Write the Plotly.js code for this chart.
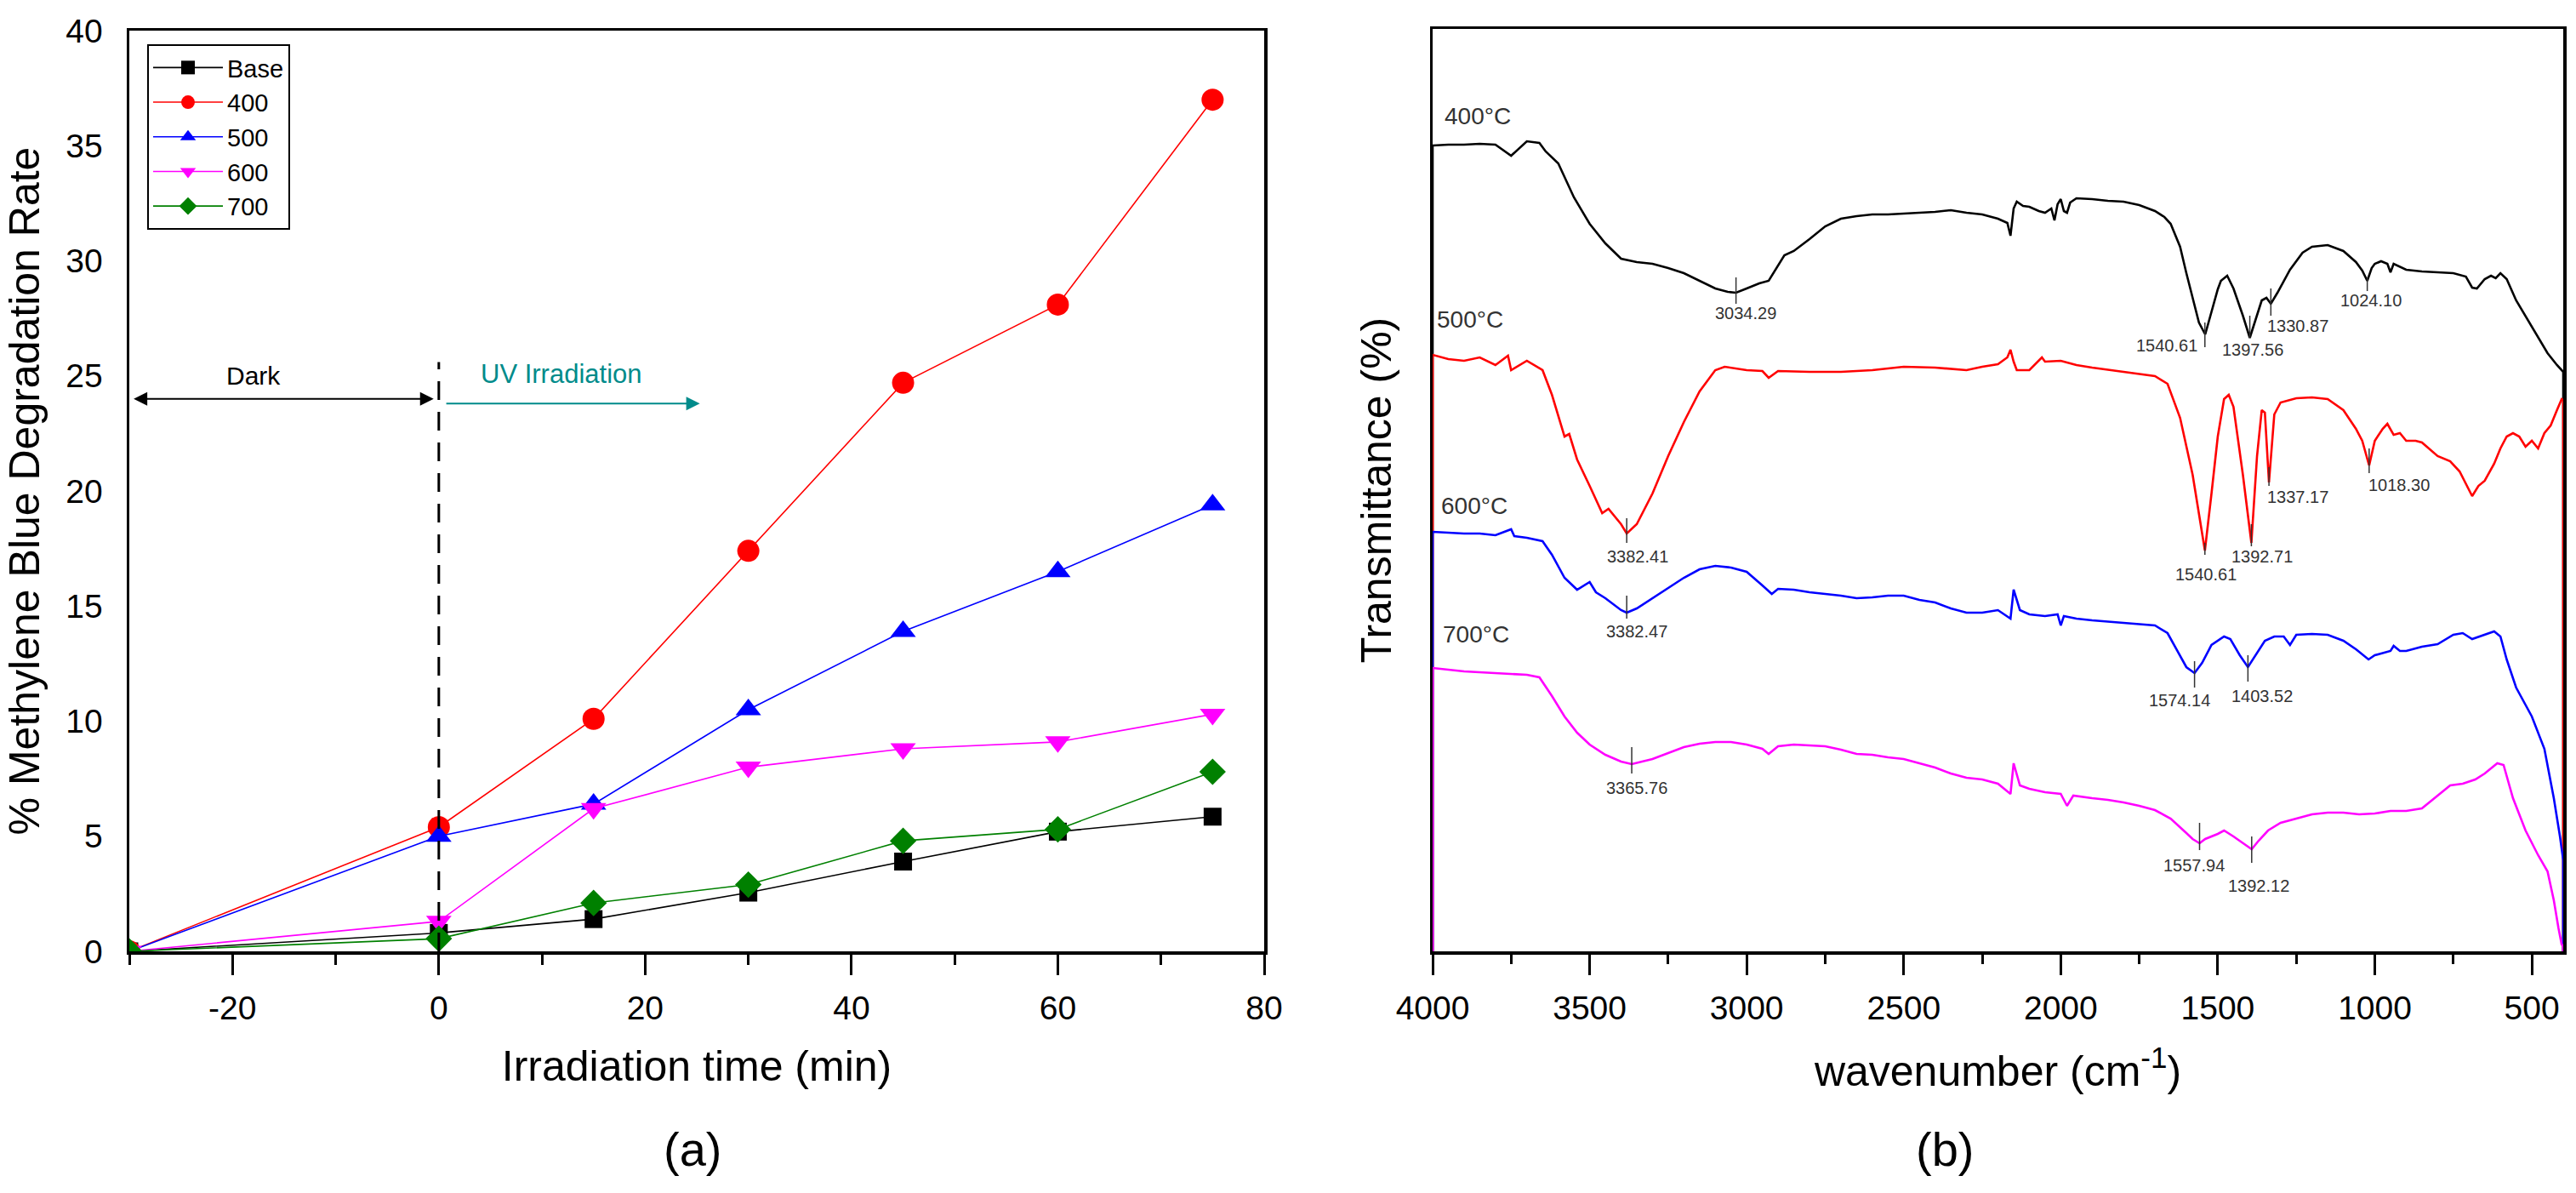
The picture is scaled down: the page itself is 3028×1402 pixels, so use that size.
<!DOCTYPE html>
<html>
<head>
<meta charset="utf-8">
<script src="https://cdn.plot.ly/plotly-3.0.1.min.js"></script>
<style>
  html, body { margin: 0; padding: 0; background: #fff; }
  #graph { width: 3028px; height: 1402px; }
</style>
</head>
<body>
<div id="graph"></div>
<script>
// ---- panel (a): degradation rate vs irradiation time ----
var time = [-30, 0, 15, 30, 45, 60, 75];
var rateBase = [0, 0.8, 1.4, 2.55, 3.9, 5.2, 5.85];
var rate400 = [0, 5.4, 10.1, 17.4, 24.7, 28.1, 37.0];
var rate500 = [0, 5.0, 6.4, 10.5, 13.9, 16.5, 19.4];
var rate600 = [0, 1.3, 6.2, 8.0, 8.8, 9.1, 10.3];
var rate700 = [0, 0.55, 2.1, 2.9, 4.8, 5.3, 7.8];
var seriesNames = ['Base', '400', '500', '600', '700'];
var timeTicks = [-20, 0, 20, 40, 60, 80];
var timeTickText = ['-20', '0', '20', '40', '60', '80'];

// ---- panel (b): FTIR spectra (relative transmittance, offset stacked) ----
var wn400 = [4000, 4000, 3950, 3900, 3850, 3800, 3750, 3700, 3660, 3640, 3600, 3550, 3500, 3450, 3400, 3350, 3300, 3250, 3200, 3150, 3100, 3060, 3034, 3000, 2960, 2930, 2910, 2880, 2850, 2800, 2750, 2700, 2650, 2600, 2550, 2500, 2450, 2400, 2350, 2300, 2250, 2200, 2170, 2160, 2150, 2140, 2120, 2100, 2070, 2050, 2030, 2020, 2010, 2000, 1990, 1980, 1970, 1950, 1900, 1850, 1800, 1750, 1700, 1670, 1650, 1620, 1600, 1580, 1560, 1540, 1520, 1500, 1490, 1470, 1450, 1420, 1398, 1380, 1360, 1345, 1331, 1310, 1270, 1230, 1200, 1150, 1100, 1060, 1040, 1024, 1010, 1000, 980, 960, 950, 940, 900, 850, 800, 750, 710, 690, 675, 650, 630, 615, 600, 580, 550, 500, 450, 420, 400, 400];
var tr400 = [0, 947, 948, 948, 949, 948, 935, 952, 950, 940, 926, 886, 855, 832, 814, 810, 808, 803, 797, 788, 779, 775, 774, 779, 785, 788, 800, 818, 823, 837, 852, 861, 864, 866, 866, 867, 868, 869, 871, 868, 866, 861, 856, 841, 873, 881, 876, 875, 870, 868, 873, 859, 878, 884, 870, 868, 880, 885, 884, 882, 881, 877, 870, 863, 855, 828, 797, 768, 739, 725, 752, 778, 788, 794, 779, 747, 721, 743, 765, 768, 761, 774, 801, 821, 828, 830, 823, 810, 800, 788, 803, 808, 811, 808, 798, 808, 801, 799, 798, 797, 793, 780, 779, 790, 794, 791, 797, 790, 765, 734, 703, 689, 681, 0];

var wn500 = [4000, 4000, 3950, 3900, 3850, 3800, 3760, 3750, 3700, 3650, 3620, 3580, 3565, 3540, 3500, 3460, 3440, 3400, 3382, 3350, 3300, 3250, 3200, 3150, 3100, 3070, 3000, 2950, 2930, 2900, 2800, 2700, 2600, 2500, 2400, 2300, 2250, 2200, 2170, 2160, 2150, 2140, 2100, 2060, 2050, 2000, 1950, 1900, 1800, 1700, 1660, 1620, 1580, 1560, 1541, 1520, 1500, 1480, 1465, 1450, 1420, 1393, 1375, 1360, 1350, 1337, 1320, 1300, 1250, 1200, 1150, 1100, 1060, 1040, 1018, 1000, 975, 960, 940, 920, 900, 870, 850, 800, 760, 730, 700, 690, 670, 650, 620, 600, 580, 560, 540, 520, 500, 480, 460, 440, 420, 405, 400, 400];
var tr500 = [0, 701, 696, 694, 698, 689, 700, 683, 694, 683, 654, 605, 608, 578, 547, 515, 520, 502, 491, 502, 538, 582, 622, 658, 683, 687, 683, 682, 674, 682, 681, 681, 683, 687, 686, 683, 687, 690, 698, 707, 693, 683, 683, 698, 693, 694, 689, 686, 681, 676, 667, 627, 560, 515, 471, 538, 605, 649, 654, 640, 560, 480, 582, 636, 633, 551, 631, 645, 650, 651, 649, 636, 614, 600, 571, 600, 614, 620, 607, 609, 600, 600, 598, 582, 576, 564, 542, 535, 547, 553, 573, 591, 605, 609, 605, 593, 600, 591, 609, 618, 636, 649, 648, 0];

var wn600 = [4000, 4000, 3950, 3900, 3850, 3800, 3750, 3740, 3700, 3650, 3620, 3580, 3540, 3500, 3480, 3450, 3400, 3382, 3350, 3300, 3250, 3200, 3150, 3100, 3050, 3000, 2950, 2920, 2900, 2850, 2800, 2750, 2700, 2650, 2600, 2550, 2500, 2450, 2400, 2350, 2300, 2250, 2200, 2160, 2150, 2130, 2100, 2050, 2010, 2000, 1990, 1950, 1900, 1800, 1700, 1660, 1620, 1600, 1574, 1550, 1520, 1480, 1460, 1430, 1404, 1380, 1350, 1320, 1290, 1270, 1250, 1200, 1150, 1100, 1060, 1020, 1000, 950, 940, 920, 900, 850, 800, 750, 720, 690, 650, 620, 600, 580, 550, 500, 460, 430, 410, 400, 400];
var tr600 = [0, 493, 492, 491, 491, 489, 496, 488, 486, 482, 466, 439, 425, 434, 422, 415, 401, 398, 403, 415, 427, 439, 449, 453, 451, 446, 430, 420, 426, 425, 422, 420, 418, 415, 416, 418, 418, 413, 410, 403, 398, 398, 401, 391, 425, 401, 396, 394, 396, 383, 394, 391, 389, 386, 383, 374, 348, 334, 327, 339, 360, 370, 367, 348, 334, 348, 365, 370, 370, 360, 372, 373, 372, 365, 355, 343, 348, 353, 359, 353, 353, 358, 361, 372, 374, 367, 372, 376, 370, 343, 310, 276, 238, 180, 134, 107, 0];

var wn700 = [4000, 4000, 3900, 3800, 3700, 3660, 3620, 3580, 3540, 3500, 3450, 3400, 3366, 3300, 3250, 3200, 3150, 3100, 3050, 3000, 2950, 2930, 2900, 2850, 2800, 2750, 2700, 2650, 2600, 2550, 2500, 2450, 2400, 2350, 2300, 2250, 2200, 2160, 2150, 2130, 2100, 2050, 2000, 1980, 1960, 1900, 1850, 1800, 1750, 1700, 1650, 1600, 1580, 1558, 1540, 1500, 1480, 1450, 1420, 1392, 1370, 1340, 1300, 1250, 1200, 1150, 1100, 1050, 1000, 950, 900, 850, 800, 760, 720, 680, 650, 610, 590, 560, 520, 480, 450, 430, 415, 405, 400, 400];
var tr700 = [0, 333, 329, 327, 325, 322, 300, 276, 257, 243, 231, 223, 220, 226, 233, 240, 244, 246, 246, 243, 238, 232, 241, 243, 242, 241, 237, 232, 231, 228, 226, 221, 216, 209, 204, 202, 197, 185, 221, 195, 191, 187, 185, 171, 183, 180, 178, 175, 171, 166, 156, 139, 132, 127, 132, 138, 142, 135, 127, 120, 130, 142, 151, 156, 161, 163, 163, 161, 162, 165, 165, 168, 183, 195, 197, 202, 209, 221, 219, 180, 142, 113, 94, 60, 27, 8, 6, 0];

// curve labels (temperature) in panel (b)
var tempText = ['400°C', '500°C', '600°C', '700°C'];
var tempWn = [3856, 3881, 3867, 3862];
var tempY = [982, 743, 524, 373];

// peak labels in panel (b)
var peakText = ['3034.29', '1540.61', '1397.56', '1330.87', '1024.10',
                '3382.41', '1540.61', '1392.71', '1337.17', '1018.30',
                '3382.47', '1574.14', '1403.52',
                '3365.76', '1557.94', '1392.12'];
var peakTextWn = [3003, 1662, 1388, 1244, 1011,
                  3347, 1537, 1360, 1244, 922,
                  3350, 1621, 1360,
                  3350, 1575, 1369];
var peakTextY = [750, 712, 707, 735, 765,
                 464, 443, 464, 534, 548,
                 376, 295, 300,
                 192, 101, 77];
// little vertical marker lines at the peaks
var peakWn = [3034, 1541, 1398, 1331, 1024,
              3382, 1541, 1393, 1337, 1018,
              3382, 1574, 1404,
              3366, 1558, 1392];
var peakY0 = [761, 710, 721, 747, 776,
              480, 466, 476, 547, 562,
              391, 310, 317,
              209, 119, 104];
var peakY1 = [792, 739, 747, 779, 792,
              509, 480, 502, 569, 591,
              418, 341, 348,
              240, 151, 135];

function drawGraph() {
    var fontFam = 'Liberation Sans, Arial, Helvetica, sans-serif';
    var colorsA = ['#000000', '#ff0000', '#0000ff', '#ff00ff', '#008000'];
    var symbols = ['square', 'circle', 'triangle-up', 'triangle-down', 'diamond'];
    var sizes = [21, 26, 26, 26, 24];
    var ratesA = [rateBase, rate400, rate500, rate600, rate700];

    var data = [];
    for (var i = 0; i < ratesA.length; i++) {
        data.push({
            x: time,
            y: ratesA[i],
            type: 'scatter',
            mode: 'lines+markers',
            name: seriesNames[i],
            line: {color: colorsA[i], width: 1.6},
            marker: {color: colorsA[i], symbol: symbols[i], size: sizes[i]},
            xaxis: 'x', yaxis: 'y'
        });
    }

    var spectra = [[wn400, tr400, '#000000'], [wn500, tr500, '#ff0000'],
                   [wn600, tr600, '#0000ff'], [wn700, tr700, '#ff00ff']];
    spectra.forEach(function (s) {
        data.push({
            x: s[0], y: s[1],
            type: 'scatter', mode: 'lines',
            line: {color: s[2], width: 2.6},
            showlegend: false, hoverinfo: 'skip',
            xaxis: 'x2', yaxis: 'y2'
        });
    });

    var annotations = [];
    var shapes = [];

    // panel (a) extras
    annotations.push({xref: 'x', yref: 'y', x: -18, y: 25.0, text: 'Dark', showarrow: false,
        font: {size: 30, color: '#000'}});
    annotations.push({xref: 'x', yref: 'y', x: 11.9, y: 25.1, text: 'UV Irradiation', showarrow: false,
        font: {size: 31, color: '#008b8b'}});
    annotations.push({xref: 'x', yref: 'y', axref: 'x', ayref: 'y', x: -0.5, y: 24.0, ax: -29.7, ay: 24.0,
        text: '', showarrow: true, arrowhead: 2, startarrowhead: 2, arrowside: 'end+start',
        arrowsize: 1.6, startarrowsize: 1.6, arrowwidth: 2, arrowcolor: '#000'});
    annotations.push({xref: 'x', yref: 'y', axref: 'x', ayref: 'y', x: 25.3, y: 23.8, ax: 0.6, ay: 23.8,
        text: '', showarrow: true, arrowhead: 2, arrowsize: 1.6, arrowwidth: 2, arrowcolor: '#008b8b'});
    shapes.push({type: 'line', xref: 'x', yref: 'y', x0: 0, x1: 0, y0: 0, y1: 25.6,
        line: {color: '#000', width: 3, dash: '22px,14px'}});

    // panel labels
    annotations.push({xref: 'paper', yref: 'paper', x: 778 / 3028, y: 0.013, text: '(a)', showarrow: false,
        font: {size: 56, color: '#000'}});
    annotations.push({xref: 'paper', yref: 'paper', x: 2322 / 3028, y: 0.013, text: '(b)', showarrow: false,
        font: {size: 56, color: '#000'}});

    // panel (b) texts
    for (var t = 0; t < tempText.length; t++) {
        annotations.push({xref: 'x2', yref: 'y2', x: tempWn[t], y: tempY[t], text: tempText[t],
            showarrow: false, font: {size: 28, color: '#333'}});
    }
    for (var p = 0; p < peakText.length; p++) {
        annotations.push({xref: 'x2', yref: 'y2', x: peakTextWn[p], y: peakTextY[p], text: peakText[p],
            showarrow: false, font: {size: 20, color: '#333'}});
        shapes.push({type: 'line', xref: 'x2', yref: 'y2', x0: peakWn[p], x1: peakWn[p],
            y0: peakY0[p], y1: peakY1[p], line: {color: '#333', width: 1.5}});
    }

    var axisCommon = {
        showline: true, linecolor: '#000', linewidth: 3.5, mirror: true,
        showgrid: false, zeroline: false
    };

    var layout = {
        width: 3028, height: 1402,
        margin: {l: 0, r: 0, t: 0, b: 0},
        paper_bgcolor: '#fff', plot_bgcolor: '#fff',
        font: {family: fontFam, color: '#000', size: 30},
        showlegend: true,
        legend: {
            x: 173 / 3028, y: (1402 - 52) / 1402, xanchor: 'left', yanchor: 'top',
            bordercolor: '#000', borderwidth: 2, bgcolor: '#fff',
            font: {size: 29}, itemwidth: 82, tracegroupgap: 0
        },
        xaxis: Object.assign({}, axisCommon, {
            domain: [152 / 3028, 1486 / 3028], range: [-30, 80], anchor: 'y',
            tickmode: 'array', tickvals: timeTicks, ticktext: timeTickText,
            ticks: 'outside', ticklen: 24, tickwidth: 3, tickcolor: '#000',
            minor: {tickmode: 'linear', tick0: -30, dtick: 10, ticks: 'outside', ticklen: 12, tickwidth: 3, tickcolor: '#000'},
            tickfont: {size: 39}, ticklabelstandoff: 6,
            title: {text: 'Irradiation time (min)', font: {size: 50}, standoff: 30}
        }),
        yaxis: Object.assign({}, axisCommon, {
            domain: [(1402 - 1118) / 1402, (1402 - 36) / 1402], range: [0, 40], anchor: 'x',
            dtick: 5, ticks: '', tickfont: {size: 39}, ticklabelstandoff: 20,
            title: {text: '% Methylene Blue Degradation Rate', font: {size: 50}, standoff: 16}
        }),
        xaxis2: Object.assign({}, axisCommon, {
            domain: [1684 / 3028, 3013 / 3028], range: [4000, 400], anchor: 'y2',
            tick0: 0, dtick: 500, ticks: 'outside', ticklen: 24, tickwidth: 3, tickcolor: '#000',
            minor: {dtick: 250, ticks: 'outside', ticklen: 11, tickwidth: 3, tickcolor: '#000'},
            tickfont: {size: 39}, ticklabelstandoff: 6,
            title: {text: 'wavenumber (cm<sup>-1</sup>)', font: {size: 50}, standoff: 36}
        }),
        yaxis2: Object.assign({}, axisCommon, {
            domain: [(1402 - 1118) / 1402, (1402 - 34) / 1402], range: [0, 1084], anchor: 'x2',
            ticks: '', showticklabels: false,
            title: {text: 'Transmittance (%)', font: {size: 50}, standoff: 30}
        }),
        annotations: annotations,
        shapes: shapes
    };

    Plotly.newPlot('graph', data, layout, {staticPlot: true});
}

drawGraph();
</script>
</body>
</html>
